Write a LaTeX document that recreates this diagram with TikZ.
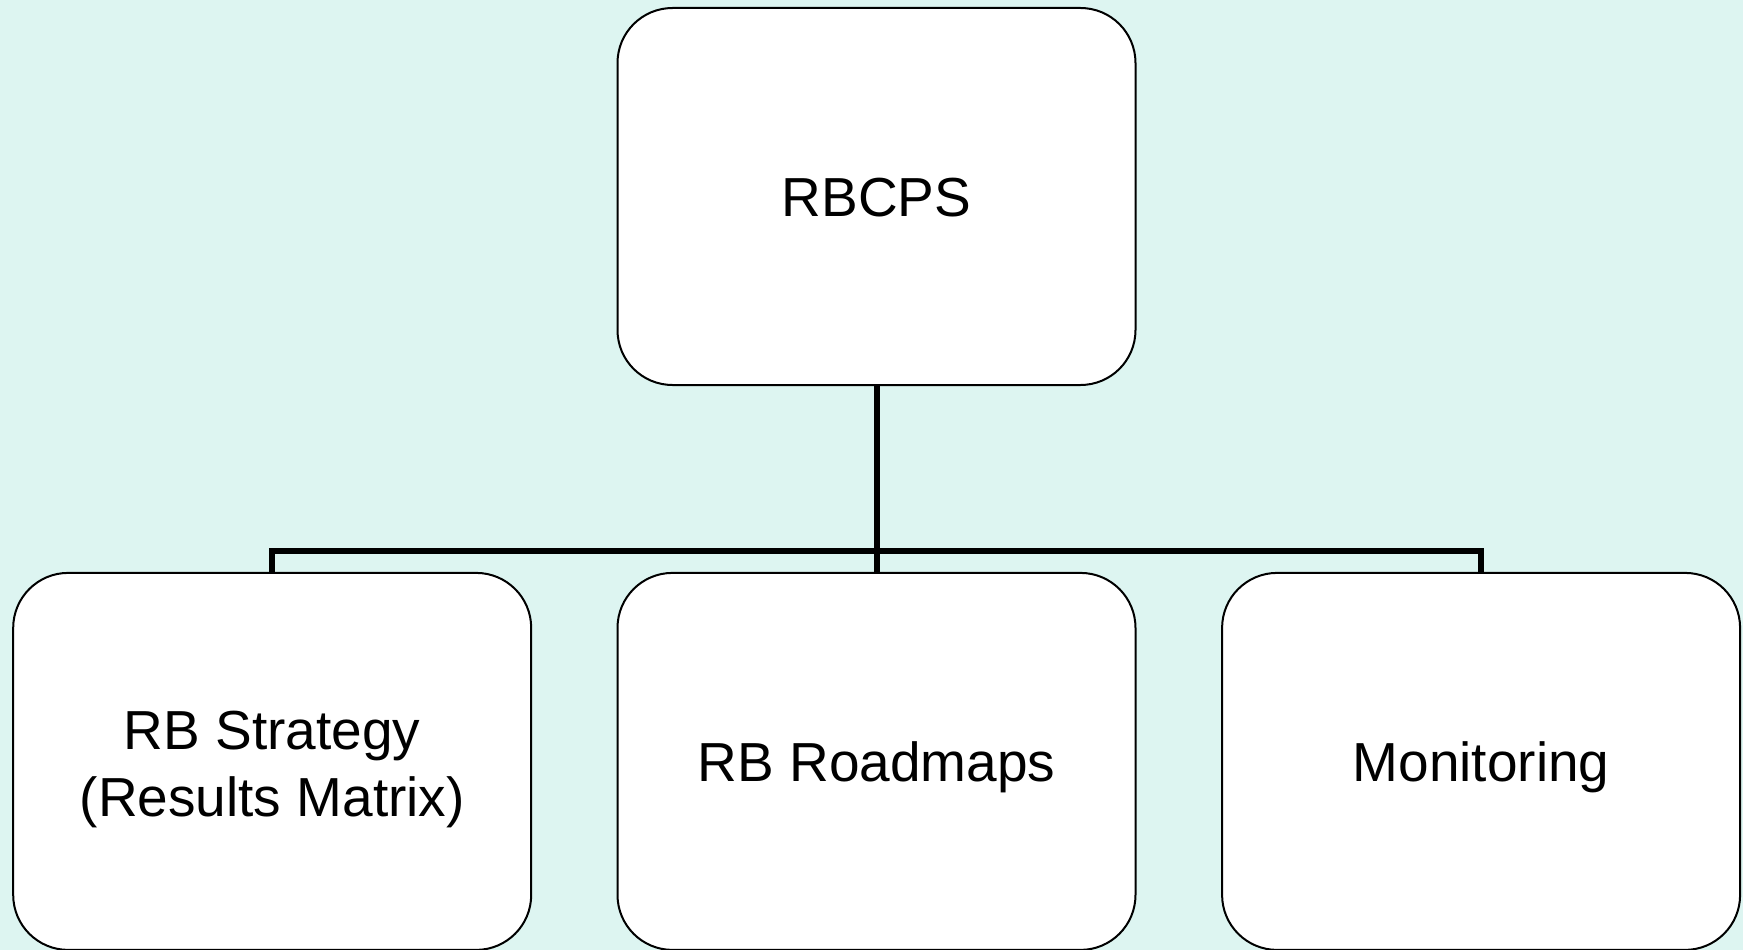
\documentclass[tikz,border=0pt]{standalone}
\usepackage{fontspec}
\setmainfont{Liberation Sans}
\definecolor{bgmint}{RGB}{221,245,241}
\begin{document}
\begin{tikzpicture}[x=1pt,y=-1pt,
  box/.style={draw=black, line width=2pt, fill=white, rounded corners=55pt,
    minimum width=518pt, minimum height=377pt, inner sep=0pt,
    font=\fontsize{55}{67}\selectfont, align=center, text height=39.4pt},
  oneline/.style={text depth=0pt},
  lowline/.style={text depth=-4pt},
  twoline/.style={text height=111pt, text depth=0pt},
  conn/.style={draw=black, line width=6pt, line join=miter}]
\fill[bgmint] (0,0) rectangle (1743,950);
\useasboundingbox (0,0) rectangle (1743,950);
\node[box, oneline] (top) at (876.5,196.5) {RBCPS};
\node[box, twoline] (strat) at (272.2,761.4) {RB Strategy\\(Results Matrix)};
\node[box, lowline] (road) at (876.5,761.4) {RB Roadmaps};
\node[box, lowline] (mon) at (1481.1,761.4) {Monitoring};
\coordinate (j) at (876.5,550.5);
\draw[conn] (top.south) -- (j);
\draw[conn] (strat.north) |- (j) -| (mon.north);
\draw[conn] (j) -- (road.north);
\end{tikzpicture}
\end{document}
